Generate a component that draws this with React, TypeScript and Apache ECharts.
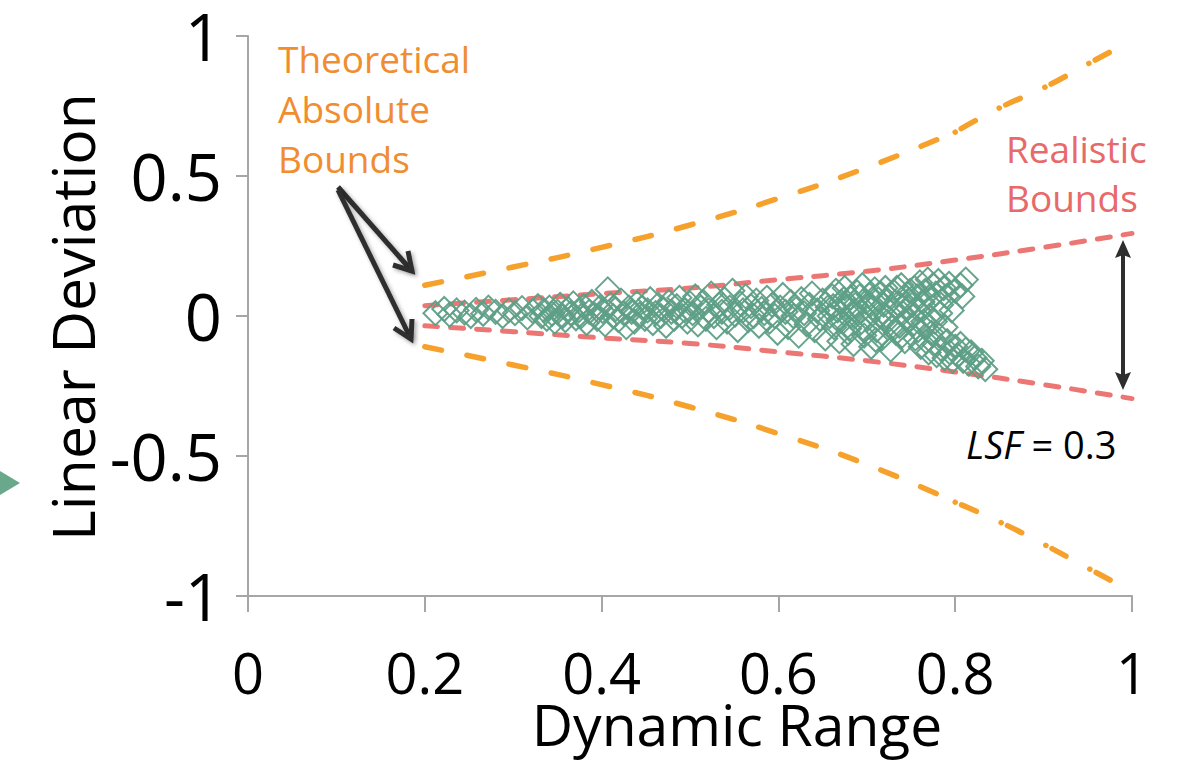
import React, { useEffect, useRef } from "react";
import * as echarts from "echarts";

// ---- data ----
const xTicks = [0, 0.2, 0.4, 0.6, 0.8, 1];
const yTicks = [-1, -0.5, 0, 0.5, 1];

// Theoretical absolute bounds (dashed part)
const theoX = [0.2, 0.3, 0.4, 0.5, 0.6, 0.7, 0.8];
const theoUpper = [0.11, 0.175, 0.245, 0.325, 0.42, 0.53, 0.657];
const theoLower = [-0.11, -0.175, -0.245, -0.325, -0.42, -0.53, -0.665];
// Theoretical absolute bounds (dash-dot tail)
const theoTailX = [0.8, 0.85, 0.9, 0.95, 1.0];
const theoTailUpper = [0.657, 0.743, 0.815, 0.9, 0.985];
const theoTailLower = [-0.665, -0.735, -0.815, -0.9, -0.985];

// Realistic bounds (LSF = 0.3)
const realX = [0.2, 0.3, 0.4, 0.5, 0.6, 0.7, 0.8, 0.9, 1.0];
const realUpper = [0.037, 0.058, 0.08, 0.1, 0.13, 0.16, 0.2, 0.245, 0.295];
const realLower = [-0.035, -0.056, -0.078, -0.098, -0.128, -0.16, -0.2, -0.245, -0.295];

// Measured points [dynamic range, linear deviation]
const measured: [number, number][] = [
  [0.212, 0.01], [0.222, 0.025], [0.228, 0.005], [0.236, 0.02], [0.245, 0.012], [0.252, 0.0],
  [0.258, 0.022], [0.266, 0.008], [0.272, 0.03], [0.28, 0.015], [0.288, 0.0], [0.295, 0.02],
  [0.302, 0.01], [0.31, 0.028], [0.316, -0.005], [0.322, 0.018], [0.328, 0.035],
  [0.332, 0.0], [0.335, 0.02], [0.338, -0.01], [0.341, 0.03], [0.344, 0.008], [0.347, -0.02],
  [0.35, 0.015], [0.353, 0.04], [0.356, 0.0], [0.359, -0.015], [0.362, 0.025], [0.365, 0.01],
  [0.368, 0.045], [0.371, -0.008], [0.374, 0.02], [0.377, 0.0], [0.38, 0.035], [0.383, -0.025],
  [0.386, 0.015], [0.389, 0.05], [0.392, 0.005], [0.395, -0.01], [0.398, 0.03], [0.401, 0.018],
  [0.404, -0.03], [0.407, 0.095], [0.41, 0.04], [0.413, 0.0], [0.416, 0.025], [0.419, -0.015],
  [0.422, 0.055], [0.425, 0.01], [0.428, -0.04], [0.431, 0.03], [0.434, 0.015], [0.437, -0.02],
  [0.44, 0.045], [0.443, 0.005], [0.446, 0.03], [0.449, -0.01], [0.452, 0.02], [0.455, 0.06],
  [0.458, -0.025], [0.461, 0.01], [0.464, 0.04], [0.467, 0.0], [0.47, 0.025], [0.473, -0.035],
  [0.476, 0.05], [0.479, 0.015], [0.482, -0.01], [0.485, 0.035], [0.488, 0.065], [0.491, 0.0],
  [0.494, 0.02], [0.497, -0.02], [0.5, 0.045],
  [0.503, 0.01], [0.506, 0.07], [0.509, -0.03], [0.512, 0.03], [0.515, 0.05], [0.518, -0.01],
  [0.521, 0.02], [0.524, 0.08], [0.527, 0.0], [0.53, -0.04], [0.533, 0.04], [0.536, 0.015],
  [0.539, 0.06], [0.542, -0.02], [0.545, 0.03], [0.548, 0.09], [0.551, 0.005], [0.554, -0.05],
  [0.557, 0.045], [0.56, 0.02], [0.563, 0.07], [0.566, -0.015], [0.569, 0.035], [0.572, 0.0],
  [0.575, 0.055], [0.578, -0.035], [0.581, 0.025], [0.584, 0.01], [0.587, 0.065], [0.59, -0.02],
  [0.593, 0.04], [0.596, 0.0], [0.599, -0.06], [0.602, 0.03], [0.605, 0.075], [0.608, 0.015],
  [0.611, -0.04], [0.614, 0.05], [0.617, 0.0], [0.62, 0.025], [0.623, -0.07], [0.626, 0.06],
  [0.629, 0.01], [0.632, -0.03], [0.635, 0.04], [0.638, 0.08], [0.641, -0.05], [0.644, 0.02],
  [0.647, -0.01], [0.65, 0.055], [0.653, -0.08], [0.656, 0.03],
  [0.658, 0.0], [0.661, 0.07], [0.663, -0.04], [0.665, 0.09], [0.667, 0.02], [0.669, -0.09],
  [0.671, 0.05], [0.673, -0.02], [0.675, 0.1], [0.677, 0.03], [0.679, -0.06], [0.681, 0.065],
  [0.683, 0.0], [0.685, -0.1], [0.687, 0.04], [0.689, 0.085], [0.691, -0.03], [0.693, 0.015],
  [0.695, 0.11], [0.697, -0.07], [0.699, 0.05], [0.701, -0.01], [0.703, 0.075], [0.705, -0.11],
  [0.707, 0.03], [0.709, 0.095], [0.711, -0.05], [0.713, 0.06], [0.715, 0.0], [0.717, -0.08],
  [0.719, 0.04], [0.721, 0.1], [0.723, -0.02], [0.725, 0.07], [0.727, -0.12], [0.729, 0.02],
  [0.731, 0.085], [0.733, -0.06], [0.735, 0.045], [0.737, -0.035], [0.739, 0.11], [0.741, 0.01],
  [0.743, -0.09], [0.745, 0.065], [0.747, -0.015], [0.749, 0.09],
  [0.662, 0.035], [0.668, -0.015], [0.674, 0.06], [0.68, -0.045], [0.686, 0.02], [0.692, 0.07],
  [0.698, -0.05], [0.704, 0.04], [0.71, -0.085], [0.716, 0.08], [0.722, 0.0], [0.728, -0.04],
  [0.734, 0.1], [0.74, -0.07], [0.746, 0.03],
  [0.751, 0.04], [0.754, 0.1], [0.757, 0.07], [0.76, 0.12], [0.763, 0.05], [0.766, 0.09],
  [0.769, 0.13], [0.772, 0.06], [0.775, 0.11], [0.778, 0.08], [0.781, 0.125], [0.784, 0.04],
  [0.787, 0.1], [0.79, 0.07], [0.793, 0.115], [0.796, 0.02], [0.8, 0.09],
  [0.752, -0.03], [0.755, -0.08], [0.758, -0.05], [0.761, -0.11], [0.764, -0.02], [0.767, -0.09],
  [0.77, -0.13], [0.773, -0.06], [0.776, -0.1], [0.779, -0.14], [0.782, -0.07], [0.785, -0.12],
  [0.788, -0.15], [0.791, -0.09], [0.794, -0.13], [0.797, -0.16], [0.8, -0.11],
  [0.753, 0.0], [0.759, 0.02], [0.765, -0.04], [0.771, 0.0], [0.777, -0.02], [0.783, 0.01],
  [0.789, -0.04],
  [0.803, -0.14], [0.806, -0.1], [0.809, -0.16], [0.812, -0.12], [0.815, -0.17], [0.818, -0.13],
  [0.822, -0.15], [0.826, -0.18], [0.83, -0.16], [0.834, -0.19], [0.806, 0.11], [0.812, 0.13],
  [0.808, 0.07],
];

const FONT = "'Open Sans', 'Noto Sans', sans-serif";
const ORANGE = "#f5a12c";
const ORANGE_TEXT = "#f08d30";
const RED = "#ec7673";
const RED_TEXT = "#e76a6b";
const GREEN = "#5e9f86";
const DARK = "#2e2e2e";
const AXIS = "#a6a6a6";

const zip = (xs: number[], ys: number[]) => xs.map((x, i) => [x, ys[i]]);

export default function App() {
  const ref = useRef<HTMLDivElement>(null);
  useEffect(() => {
    if (!ref.current) return;
    const chart = echarts.init(ref.current, null, { renderer: "svg" });

    const dashed = (data: number[][], color: string, type: any, width: number) => ({
      type: "line",
      data,
      smooth: true,
      symbol: "none",
      silent: true,
      z: 2,
      lineStyle: { color, width, type, cap: "round", join: "round" },
    });

    const shadow = {
      shadowBlur: 4,
      shadowColor: "rgba(0,0,0,0.35)",
      shadowOffsetX: 2,
      shadowOffsetY: 2,
    };

    const arrowLine = (x1: number, y1: number, x2: number, y2: number) => ({
      type: "line",
      shape: { x1, y1, x2, y2 },
      style: { stroke: DARK, lineWidth: 5, lineCap: "butt", ...shadow },
    });
    const barbs = (pts: number[][]) => ({
      type: "polyline",
      shape: { points: pts },
      style: { stroke: DARK, lineWidth: 5, fill: "none", lineJoin: "miter", lineCap: "butt", ...shadow },
    });

    const text = (x: number, y: number, t: string, size: number, color: string, extra: any = {}) => ({
      type: "text",
      x,
      y,
      ...extra.el,
      style: {
        text: t,
        fill: color,
        fontSize: size,
        fontFamily: FONT,
        lineHeight: extra.lineHeight,
        align: extra.align || "left",
        textAlign: extra.align || "left",
        verticalAlign: extra.valign || "top",
        textVerticalAlign: extra.valign || "top",
        rich: extra.rich,
      },
    });

    chart.setOption({
      animation: false,
      grid: {
        left: 248,
        right: 48,
        top: 36,
        bottom: 166,
        containLabel: false,
        outerBoundsMode: "none",
      },
      xAxis: {
        type: "value",
        min: xTicks[0],
        max: xTicks[xTicks.length - 1],
        interval: 0.2,
        axisLine: { onZero: false, lineStyle: { color: AXIS, width: 2 } },
        axisTick: { length: 16, lineStyle: { color: AXIS, width: 2 } },
        splitLine: { show: false },
        axisLabel: {
          fontSize: 56,
          lineHeight: 48,
          fontFamily: FONT,
          color: "#000",
          margin: 76,
          verticalAlign: "middle",
          formatter: (v: number) => String(+v.toFixed(1)),
        },
      },
      yAxis: {
        type: "value",
        min: yTicks[0],
        max: yTicks[yTicks.length - 1],
        interval: 0.5,
        axisLine: { show: true, lineStyle: { color: AXIS, width: 2 } },
        axisTick: { show: true, length: 12, lineStyle: { color: AXIS, width: 2 } },
        splitLine: { show: false },
        axisLabel: {
          fontSize: 65,
          lineHeight: 58,
          fontFamily: FONT,
          color: "#000",
          margin: 26,
          formatter: (v: number) => String(+v.toFixed(1)),
        },
      },
      series: [
        dashed(zip(theoX, theoUpper), ORANGE, [17, 26], 5.5),
        dashed(zip(theoX, theoLower), ORANGE, [17, 26], 5.5),
        dashed(zip(theoTailX, theoTailUpper), ORANGE, [0.1, 7, 16, 27], 5.5),
        dashed(zip(theoTailX, theoTailLower), ORANGE, [0.1, 7, 16, 27], 5.5),
        dashed(zip(realX, realUpper), RED, [13, 13], 5),
        dashed(zip(realX, realLower), RED, [13, 13], 5),
        {
          type: "scatter",
          data: measured,
          symbol: "diamond",
          symbolSize: 24,
          z: 3,
          silent: true,
          itemStyle: { color: "rgba(0,0,0,0)", borderColor: GREEN, borderWidth: 2, opacity: 0.95 },
        },
      ],
      graphic: [
        // partial marker at left edge
        {
          type: "polygon",
          shape: { points: [[0, 471], [20, 483], [0, 495]] },
          style: { fill: "#6aa88c" },
        },
        // axis names
        text(72, 317, "Linear Deviation", 59, "#000", {
          align: "center",
          valign: "middle",
          el: { rotation: Math.PI / 2 },
        }),
        text(737, 724, "Dynamic Range", 57, "#000", { align: "center", valign: "middle", lineHeight: 50 }),
        // annotations
        text(278, 33, "Theoretical\nAbsolute\nBounds", 37, ORANGE_TEXT, { lineHeight: 50 }),
        text(1006, 124, "Realistic\nBounds", 37, RED_TEXT, { lineHeight: 49 }),
        text(966, 444, "{i|LSF} = 0.3", 38, "#000", {
          valign: "middle",
          rich: { i: { fontStyle: "italic", fontSize: 38, fontFamily: FONT, fill: "#000" } },
        }),
        // pointer arrows
        arrowLine(338, 187, 411, 270),
        barbs([[408, 251], [412, 271], [393, 265]]),
        arrowLine(338, 190, 410, 337),
        barbs([[412, 319], [411, 339], [394, 328]]),
        // double arrow for LSF
        {
          type: "rect",
          shape: { x: 1121, y: 252, width: 4, height: 126 },
          style: { fill: DARK },
        },
        {
          type: "polygon",
          shape: { points: [[1123, 240], [1131, 258], [1123, 255], [1115, 258]] },
          style: { fill: DARK },
        },
        {
          type: "polygon",
          shape: { points: [[1123, 390], [1131, 372], [1123, 375], [1115, 372]] },
          style: { fill: DARK },
        },
      ],
    });
    return () => chart.dispose();
  }, []);
  return (
    <div
      ref={ref}
      style={{ position: "fixed", left: 0, top: 0, width: 1180, height: 762, background: "#fff" }}
    />
  );
}
